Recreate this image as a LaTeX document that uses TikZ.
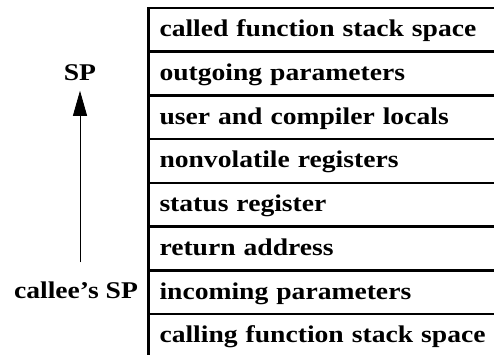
\documentclass[tikz,border=0pt]{standalone}
\usepackage{fontspec}
\setmainfont[FakeStretch=1.15]{Liberation Serif}
\usetikzlibrary{arrows.meta,positioning}
\newcommand{\stackfont}{\fontsize{24}{28}\selectfont\bfseries}

\begin{document}
\begin{tikzpicture}[x=1pt,y=-1pt,
    row/.style={draw,line width=2.6pt,outer sep=0pt,minimum width=352pt,minimum height=43.7pt,text width=330pt,inner xsep=11pt,inner ysep=0pt,text height=18pt,text depth=4pt,align=left,font=\stackfont},
    lbl/.style={font=\stackfont,inner sep=0pt},
    arr/.style={-{Triangle[length=25pt,width=14pt]},line width=0.8pt}]
    \useasboundingbox (0,0) rectangle (494,354);
    \node[row,anchor=north west] (called) at (148.5,8) {called function stack space};
    \node[row,below=0pt of called] (outgoing) {outgoing parameters};
    \node[row,below=0pt of outgoing] (locals) {user and compiler locals};
    \node[row,below=0pt of locals] (nonvol) {nonvolatile registers};
    \node[row,below=0pt of nonvol] (status) {status register};
    \node[row,below=0pt of status] (retaddr) {return address};
    \node[row,below=0pt of retaddr] (incoming) {incoming parameters};
    \node[row,below=0pt of incoming] (calling) {calling function stack space};
    \node[lbl] (sp) at (80,72.5) {SP};
    \node[lbl] (callee) at (76,290) {callee’s SP};
    \draw[arr,shorten <=19pt,shorten >=10pt] (callee.north -| sp.south) -- (sp.south);
  \end{tikzpicture}
\end{document}
